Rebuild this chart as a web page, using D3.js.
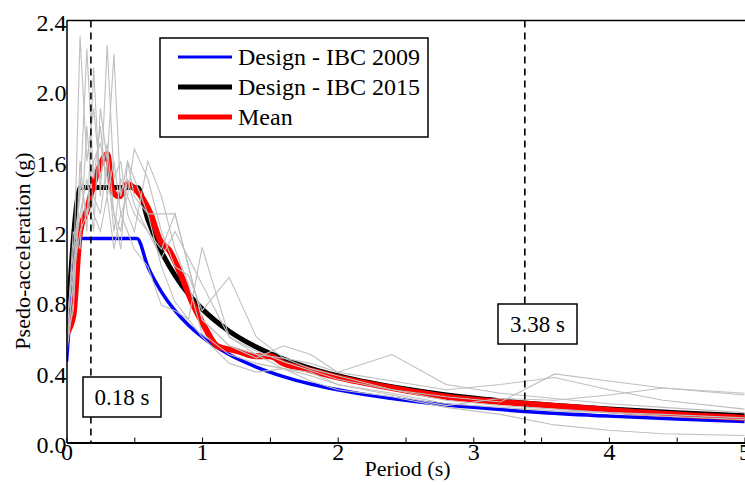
<!DOCTYPE html>
<html>
<head>
<meta charset="utf-8">
<script src="https://cdn.jsdelivr.net/npm/d3@7"></script>
<style>
  body { margin: 0; background: #fff; }
</style>
</head>
<body>
<div id="chart"></div>
<script>
// Period grids (s)
var designPeriods09 = [0, 0.1, 0.52, 0.6, 0.7, 0.8, 0.9, 1.0, 1.2, 1.4, 1.6, 1.8, 2.0, 2.25, 2.5, 2.75, 3.0, 3.5, 4.0, 4.5, 5.0];
var designPeriods15 = [0, 0.105, 0.524, 0.6, 0.7, 0.8, 0.9, 1.0, 1.2, 1.4, 1.6, 1.8, 2.0, 2.25, 2.5, 2.75, 3.0, 3.5, 4.0, 4.5, 5.0];

// Design spectra (g)
var ibc2009 = [0.46, 1.16, 1.16, 1.00, 0.857, 0.75, 0.667, 0.60, 0.50, 0.429, 0.375, 0.333, 0.30, 0.267, 0.24, 0.218, 0.20, 0.171, 0.15, 0.133, 0.12];
var ibc2015 = [0.58, 1.45, 1.45, 1.267, 1.086, 0.95, 0.844, 0.76, 0.633, 0.543, 0.475, 0.422, 0.38, 0.338, 0.304, 0.276, 0.253, 0.217, 0.19, 0.169, 0.152];

// Mean spectrum
var meanPeriods = [0, 0.05, 0.1, 0.15, 0.2, 0.25, 0.3, 0.34, 0.39, 0.45, 0.52, 0.62, 0.69, 0.76, 0.84, 0.93, 1.01, 1.11, 1.26, 1.4, 1.5, 1.6, 1.75, 2.0, 2.4, 2.8, 3.38, 3.75, 4.25, 5.0];
var meanValues = [0.62, 0.72, 1.2, 1.32, 1.47, 1.58, 1.64, 1.43, 1.40, 1.47, 1.43, 1.30, 1.15, 1.09, 0.96, 0.79, 0.67, 0.55, 0.52, 0.49, 0.49, 0.45, 0.42, 0.37, 0.31, 0.26, 0.22, 0.20, 0.17, 0.14];

// Individual records
var recordPeriods = [0, 0.05, 0.1, 0.15, 0.2, 0.25, 0.3, 0.35, 0.4, 0.45, 0.5, 0.6, 0.7, 0.8, 0.9, 1.0, 1.2, 1.4, 1.6, 1.8, 2.0, 2.4, 2.8, 3.2, 3.6, 4.0, 4.4, 5.0];
var record1 = [0.55, 0.9, 2.31, 1.6, 1.9, 1.5, 1.7, 1.3, 1.2, 1.5, 1.35, 1.2, 1.1, 1.3, 1.0, 0.7, 0.55, 0.5, 0.48, 0.42, 0.38, 0.30, 0.26, 0.23, 0.39, 0.35, 0.31, 0.27];
var record2 = [0.6, 1.1, 1.4, 2.24, 1.5, 1.8, 1.4, 1.6, 1.3, 1.4, 1.67, 1.5, 1.2, 1.0, 0.95, 0.75, 0.94, 0.6, 0.48, 0.45, 0.40, 0.50, 0.33, 0.28, 0.25, 0.22, 0.20, 0.17];
var record3 = [0.5, 0.8, 1.6, 1.2, 2.13, 1.4, 2.26, 1.5, 1.6, 1.3, 1.2, 1.6, 1.4, 1.1, 0.9, 0.62, 0.5, 0.45, 0.42, 0.40, 0.33, 0.28, 0.22, 0.20, 0.18, 0.17, 0.16, 0.14];
var record4 = [0.65, 1.0, 1.3, 1.5, 1.2, 1.9, 1.6, 2.21, 1.4, 1.6, 1.5, 1.3, 1.0, 0.8, 0.7, 1.11, 0.6, 0.5, 0.42, 0.38, 0.33, 0.27, 0.21, 0.25, 0.24, 0.27, 0.31, 0.28];
var record5 = [0.55, 1.2, 1.1, 1.8, 1.3, 1.2, 1.4, 1.1, 1.3, 1.2, 1.1, 1.0, 0.78, 0.75, 0.7, 0.6, 0.45, 0.40, 0.42, 0.35, 0.30, 0.26, 0.20, 0.16, 0.10, 0.07, 0.05, 0.04];
var record6 = [0.6, 0.75, 1.5, 1.3, 1.6, 1.7, 1.5, 1.3, 1.1, 1.6, 1.4, 1.3, 1.3, 1.30, 1.0, 0.7, 0.55, 0.48, 0.55, 0.50, 0.40, 0.35, 0.30, 0.33, 0.37, 0.30, 0.24, 0.19];
var record7 = [0.5, 0.95, 1.2, 1.3, 1.4, 1.3, 1.6, 1.2, 1.5, 1.4, 1.3, 1.2, 1.05, 1.2, 1.05, 0.9, 0.6, 0.52, 0.46, 0.41, 0.36, 0.30, 0.24, 0.21, 0.19, 0.17, 0.15, 0.13];
var records = [record1, record2, record3, record4, record5, record6, record7];

// Marked periods
var markedPeriods = [0.18, 3.38];
var markedLabels = ["0.18 s", "3.38 s"];

var xTicks = [0, 0.5, 1, 1.5, 2, 2.5, 3, 3.5, 4, 4.5, 5];
var yTicks = [0, 0.4, 0.8, 1.2, 1.6, 2.0, 2.4];

var W = 745, H = 485;
var margin = { top: 20.5, right: 0.5, bottom: 42.5, left: 66.5 };
var FONT = "'Liberation Serif', 'Times New Roman', serif";

var x = d3.scaleLinear().domain([0, 5]).range([margin.left, W - margin.right]);
var y = d3.scaleLinear().domain([0, 2.4]).range([H - margin.bottom, margin.top]);

var svg = d3.select("#chart").append("svg")
    .attr("width", W)
    .attr("height", H)
    .attr("font-family", FONT)
    .style("font-family", FONT);

svg.append("defs").append("clipPath").attr("id", "clip")
  .append("rect")
    .attr("x", margin.left).attr("y", margin.top)
    .attr("width", W - margin.left).attr("height", H - margin.bottom - margin.top);

function zip(px, py) {
  return px.map(function (p, i) { return [p, py[i]]; });
}

// Give a text element the serif face and a size
function serif(sel, size) {
  return sel.attr("font-family", FONT).style("font-family", FONT)
      .attr("font-size", size).style("font-size", size + "px")
      .attr("fill", "#000");
}

var smooth = d3.line()
    .x(function (d) { return x(d[0]); })
    .y(function (d) { return y(d[1]); })
    .curve(d3.curveMonotoneX);

var straight = d3.line()
    .x(function (d) { return x(d[0]); })
    .y(function (d) { return y(d[1]); });

var plot = svg.append("g").attr("clip-path", "url(#clip)");

// Design curves and mean
plot.append("path")
    .attr("d", smooth(zip(designPeriods15, ibc2015)))
    .attr("fill", "none").attr("stroke", "#000").attr("stroke-width", 5);

plot.append("path")
    .attr("d", smooth(zip(designPeriods09, ibc2009)))
    .attr("fill", "none").attr("stroke", "#0000ff").attr("stroke-width", 3.5);

plot.append("path")
    .attr("d", smooth(zip(meanPeriods, meanValues)))
    .attr("fill", "none").attr("stroke", "#ff0000").attr("stroke-width", 6)
    .attr("stroke-linejoin", "round");

// Records on top
plot.selectAll(".record")
    .data(records)
    .enter()
    .append("path")
    .attr("class", "record")
    .attr("d", function (d) { return straight(zip(recordPeriods, d)); })
    .attr("fill", "none").attr("stroke", "#bfbfbf").attr("stroke-width", 1.1);

// Dashed markers
plot.selectAll(".marker")
    .data(markedPeriods)
    .enter()
    .append("line")
    .attr("x1", function (d) { return x(d); })
    .attr("x2", function (d) { return x(d); })
    .attr("y1", margin.top)
    .attr("y2", H - margin.bottom)
    .attr("stroke", "#000").attr("stroke-width", 1.6)
    .attr("stroke-dasharray", "7,5");

// Axes
var xAxis = svg.append("g")
    .attr("transform", "translate(0," + (H - margin.bottom) + ")")
    .call(d3.axisBottom(x).tickValues(xTicks).tickSize(-5).tickSizeOuter(0)
      .tickFormat(function (d) { return d % 1 === 0 ? d : ""; }));
xAxis.attr("font-family", FONT).attr("font-size", 24);
xAxis.select(".domain").attr("stroke-width", 2);
xAxis.selectAll(".tick line").attr("stroke-width", 1);
serif(xAxis.selectAll(".tick text"), 24)
    .attr("y", 0).attr("dy", "0.72em");

var yAxis = svg.append("g")
    .attr("transform", "translate(" + margin.left + ",0)")
    .call(d3.axisLeft(y).tickValues(yTicks).tickSize(0).tickPadding(0)
      .tickFormat(d3.format(".1f")));
yAxis.attr("font-family", FONT).attr("font-size", 24);
yAxis.select(".domain").attr("stroke-width", 1.5);
serif(yAxis.selectAll(".tick text"), 24)
    .attr("dy", "0.42em");

// Top frame line
svg.append("line")
    .attr("x1", margin.left).attr("x2", W)
    .attr("y1", margin.top).attr("y2", margin.top)
    .attr("stroke", "#000").attr("stroke-width", 1.5);

// Axis titles
serif(svg.append("text"), 22)
    .attr("x", (x(0) + x(5)) / 2 + 2).attr("y", 476)
    .attr("text-anchor", "middle")
    .text("Period (s)");

serif(svg.append("text"), 22)
    .attr("transform", "translate(30,251) rotate(-90)")
    .attr("text-anchor", "middle")
    .text("Psedo-acceleration (g)");

// Marker labels
var boxes = [
  { x: 83, y: 377, w: 78, h: 40 },
  { x: 498, y: 304, w: 79, h: 40 }
];
markedLabels.forEach(function (lab, i) {
  var b = boxes[i];
  svg.append("rect")
      .attr("x", b.x).attr("y", b.y).attr("width", b.w).attr("height", b.h)
      .attr("fill", "#fff").attr("stroke", "#000").attr("stroke-width", 1.5);
  serif(svg.append("text"), 23)
      .attr("x", b.x + b.w / 2).attr("y", b.y + b.h / 2)
      .attr("dy", "0.35em").attr("text-anchor", "middle")
      .text(lab);
});

// Legend
var legendItems = [
  { name: "Design - IBC 2009", color: "#0000ff", width: 3 },
  { name: "Design - IBC 2015", color: "#000", width: 5 },
  { name: "Mean", color: "#ff0000", width: 5 }
];
var legend = svg.append("g");
legend.append("rect")
    .attr("x", 160).attr("y", 38).attr("width", 268).attr("height", 99)
    .attr("fill", "#fff").attr("stroke", "#000").attr("stroke-width", 1.5);
legendItems.forEach(function (it, i) {
  var ly = 57 + i * 30;
  legend.append("line")
      .attr("x1", 178).attr("x2", 232).attr("y1", ly).attr("y2", ly)
      .attr("stroke", it.color).attr("stroke-width", it.width);
  serif(legend.append("text"), 24)
      .attr("x", 238).attr("y", ly).attr("dy", "0.33em")
      .text(it.name);
});
</script>
</body>
</html>
